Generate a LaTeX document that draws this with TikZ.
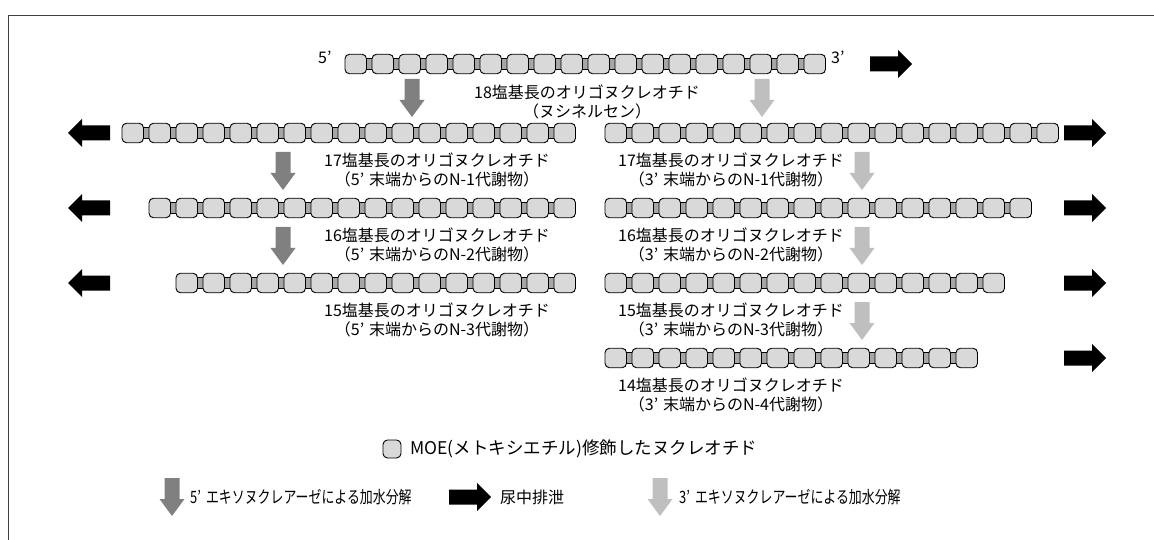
\documentclass[tikz,border=0pt]{standalone}
\usepackage{fontspec}
\setmainfont{Noto Sans CJK JP}
\newfontfamily\narrowjp[FakeStretch=0.76]{Noto Sans CJK JP}
\usetikzlibrary{calc}
\definecolor{boxfill}{HTML}{D9D9D9}
\definecolor{linkfill}{HTML}{A6A6A6}
\definecolor{darkarr}{HTML}{808080}
\definecolor{lightarr}{HTML}{BFBFBF}
\definecolor{framec}{HTML}{404040}
\tikzset{
  mbox/.style={draw=black, fill=boxfill, line width=0.9pt, rounded corners=4.5pt,
    minimum width=21.5pt, minimum height=19.5pt, inner sep=0pt},
  linkbar/.style={draw=black, fill=linkfill, line width=0.9pt},
  lbl/.style={align=center, font=\fontsize{16}{18.5}\selectfont, inner sep=0pt},
  leg/.style={anchor=west, font=\fontsize{16}{18.5}\selectfont, inner sep=0pt},
  legn/.style={anchor=west, font=\fontsize{17}{19}\narrowjp, inner sep=0pt},
  blackarrow/.pic={\fill[black] (-21,-7.5) -- (7,-7.5) -- (7,-14) -- (21,0) -- (7,14) -- (7,7.5) -- (-21,7.5) -- cycle;},
  downarrow/.pic={\fill[#1] (-7.5,-19) -- (7.5,-19) -- (7.5,2) -- (12.5,2) -- (0,19) -- (-12.5,2) -- (-7.5,2) -- cycle;}
}
\newcommand{\pr}{’\hspace{0.3em}}
\newcommand{\oligo}[4]{% name, x0, y, n
  \path[linkbar] ({#2+10},{#3-5.5}) rectangle ({#2+11.5+(#4-1)*27},{#3+5.5});
  \foreach \i in {1,...,#4}{\node[mbox] (#1-\i) at ({#2+10.75+(\i-1)*27},#3) {};}
}
\begin{document}
\begin{tikzpicture}[x=1pt,y=-1pt]
\useasboundingbox (0,0) rectangle (1154,540);
\draw[framec, line width=1.5pt] (8.5,540) -- (8.5,15.5) -- (1154,15.5);

% row 1
\oligo{r1}{345}{64}{18}
\node[lbl, anchor=west] (p5) at (318,57) {5’};
\node[lbl, anchor=west] (p3) at (831,57) {3’};
\pic at (891,64) {blackarrow};
\pic at (412,98) {downarrow=darkarr};
\pic at (762,98) {downarrow=lightarr};
\node[lbl] (t18) at (587,102) {18塩基長のオリゴヌクレオチド\\（ヌシネルセン）};

% left chains (5' degradation)
\oligo{l2}{122}{133}{17}
\oligo{l3}{149}{208}{16}
\oligo{l4}{176}{283}{15}
\pic[rotate=180] at (89,133) {blackarrow};
\pic[rotate=180] at (89,208) {blackarrow};
\pic[rotate=180] at (89,283) {blackarrow};
\pic at (283,171) {downarrow=darkarr};
\pic at (283,246) {downarrow=darkarr};
\node[lbl] (tl17) at (437,170) {17塩基長のオリゴヌクレオチド\\（5\pr 末端からのN-1代謝物）};
\node[lbl] (tl16) at (437,245) {16塩基長のオリゴヌクレオチド\\（5\pr 末端からのN-2代謝物）};
\node[lbl] (tl15) at (437,320) {15塩基長のオリゴヌクレオチド\\（5\pr 末端からのN-3代謝物）};

% right chains (3' degradation)
\oligo{r2}{605}{133}{17}
\oligo{r3}{605}{208}{16}
\oligo{r4}{605}{283}{15}
\oligo{r5}{605}{358}{14}
\pic at (1085,133) {blackarrow};
\pic at (1085,208) {blackarrow};
\pic at (1085,283) {blackarrow};
\pic at (1085,358) {blackarrow};
\pic at (862,171) {downarrow=lightarr};
\pic at (862,246) {downarrow=lightarr};
\pic at (862,321) {downarrow=lightarr};
\node[lbl] (tr17) at (731,170) {17塩基長のオリゴヌクレオチド\\（3\pr 末端からのN-1代謝物）};
\node[lbl] (tr16) at (731,245) {16塩基長のオリゴヌクレオチド\\（3\pr 末端からのN-2代謝物）};
\node[lbl] (tr15) at (731,320) {15塩基長のオリゴヌクレオチド\\（3\pr 末端からのN-3代謝物）};
\node[lbl] (tr14) at (731,395) {14塩基長のオリゴヌクレオチド\\（3\pr 末端からのN-4代謝物）};

% legend
\node[mbox, minimum width=18pt, minimum height=18pt] (legbox) at (392,449) {};
\node[leg, font=\fontsize{17.5}{20}\selectfont] (legmoe) at (410,449) {MOE(メトキシエチル)修飾したヌクレオチド};
\pic at (172,497) {downarrow=darkarr};
\node[legn] (leg5) at (190,497) {5\pr エキソヌクレアーゼによる加水分解};
\pic at (470,497) {blackarrow};
\node[leg] (legu) at (500,497) {尿中排泄};
\pic at (660,497) {downarrow=lightarr};
\node[legn] (leg3) at (679,497) {3\pr エキソヌクレアーゼによる加水分解};
\end{tikzpicture}
\end{document}
